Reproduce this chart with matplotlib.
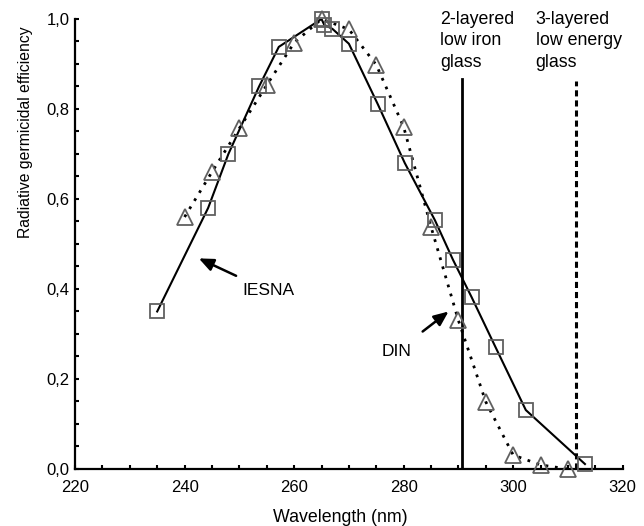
import matplotlib
matplotlib.use("Agg")
import matplotlib.pyplot as plt
from matplotlib.ticker import MultipleLocator
import numpy as np

plt.rcParams['font.family'] = ['Liberation Sans', 'DejaVu Sans']

# IESNA (squares, solid)
iesna_wl = [235, 244.3, 248, 253.6, 257.2, 265, 265.5, 267, 270, 275.3, 280.2, 285.7, 289, 292.4, 296.8, 302.3, 313.1]
iesna_eff = [0.35, 0.58, 0.70, 0.85, 0.938, 1.0, 0.987, 0.978, 0.945, 0.81, 0.68, 0.553, 0.465, 0.382, 0.27, 0.131, 0.011]

# DIN (triangles, dotted)
din_wl = [240, 245, 250, 255, 260, 265, 270, 275, 280, 285, 290, 295, 300, 305, 310]
din_eff = [0.56, 0.66, 0.757, 0.853, 0.947, 1.0, 0.977, 0.898, 0.76, 0.538, 0.33, 0.149, 0.031, 0.009, 0.0]

glass_2 = 290.6
glass_3 = 311.5

fig = plt.figure(figsize=(6.44, 5.26), dpi=100)
ax = fig.add_axes([0.1165, 0.1084, 0.8505, 0.8555])

ax.plot(iesna_wl, iesna_eff, color='black', lw=1.5, zorder=3)
ax.plot(din_wl, din_eff, color='black', lw=2.0, linestyle=(0, (1, 2.4)), zorder=3)
ax.plot(iesna_wl, iesna_eff, linestyle='none', marker='s', ms=10, mfc='none',
        mec='#606060', mew=1.3, zorder=4, clip_on=False)
ax.plot(din_wl, din_eff, linestyle='none', marker='^', ms=11, mfc='none',
        mec='#606060', mew=1.3, zorder=4, clip_on=False)

ax.plot([glass_2, glass_2], [0, 0.867], color='black', lw=2)
ax.plot([glass_3, glass_3], [0, 0.862], color='black', lw=2.2, linestyle=(0, (2, 1.3)))

ax.text(286.6, 1.017, "2-layered\nlow iron\nglass", fontsize=12.8, va='top', ha='left',
        linespacing=1.32)
ax.text(304.1, 1.017, "3-layered\nlow energy\nglass", fontsize=12.8, va='top', ha='left',
        linespacing=1.32)

ax.annotate("IESNA", xy=(242.6, 0.468), xytext=(250.5, 0.396), fontsize=12.5,
            va='center', ha='left',
            arrowprops=dict(arrowstyle='-|>,head_length=0.7,head_width=0.3', color='black',
                            lw=1.8, shrinkA=8, shrinkB=0))
ax.annotate("DIN", xy=(288.2, 0.35), xytext=(275.9, 0.26), fontsize=12.5,
            va='center', ha='left',
            arrowprops=dict(arrowstyle='-|>,head_length=0.7,head_width=0.3', color='black',
                            lw=1.8, shrinkA=12, shrinkB=0))

ax.set_xlim(220, 320)
ax.set_ylim(0, 1.0)
ax.xaxis.set_major_locator(MultipleLocator(20))
ax.xaxis.set_minor_locator(MultipleLocator(5))
ax.yaxis.set_major_locator(MultipleLocator(0.2))
ax.yaxis.set_minor_locator(MultipleLocator(0.05))
yt = np.arange(0, 1.01, 0.2)
ax.set_yticks(yt)
ax.set_yticklabels([f"{v:.1f}".replace('.', ',') for v in yt])

ax.tick_params(which='both', direction='in', length=3, width=1.5, labelsize=12)
ax.tick_params(axis='x', pad=8)
ax.tick_params(axis='y', pad=4)
for s in ['top', 'right']:
    ax.spines[s].set_visible(False)
for s in ['left', 'bottom']:
    ax.spines[s].set_linewidth(1.6)

ax.set_xlabel("Wavelength (nm)", fontsize=12.8)
ax.xaxis.set_label_coords(0.4836, -0.089)
ax.set_ylabel("Radiative germicidal efficiency", fontsize=11.3)
ax.yaxis.set_label_coords(-0.077, 0.749)

fig.savefig("out.png", dpi=100)
